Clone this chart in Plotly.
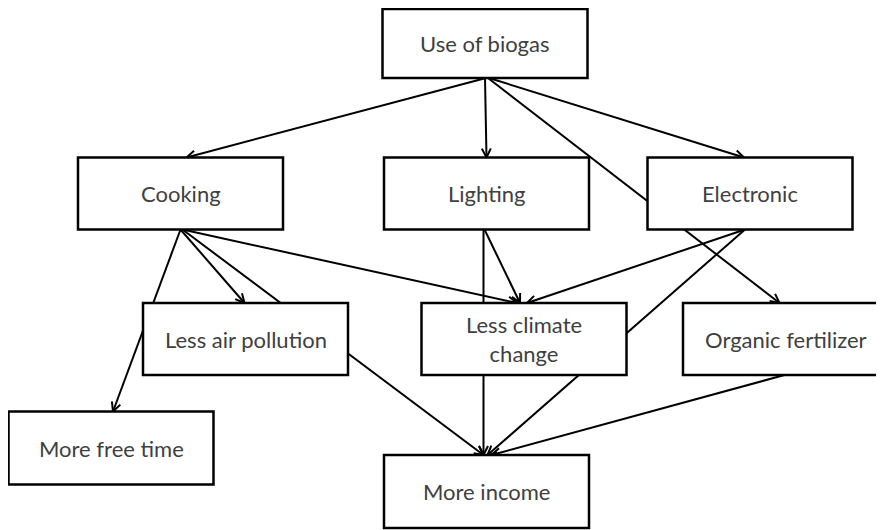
import numpy as np
import plotly.graph_objects as go

# boxes of the diagram
labels = ["Use of biogas", "Cooking", "Lighting", "Electronic",
          "Less air pollution", "Less climate<br>change", "Organic fertilizer",
          "More free time", "More income"]

# arrows: source box -> target box
sources = ["Use of biogas", "Use of biogas", "Use of biogas", "Use of biogas",
           "Cooking", "Cooking", "Cooking", "Cooking",
           "Lighting", "Lighting", "Electronic", "Electronic",
           "Organic fertilizer"]
targets = ["Cooking", "Lighting", "Electronic", "Organic fertilizer",
           "More free time", "Less air pollution", "More income",
           "Less climate<br>change",
           "Less climate<br>change", "More income",
           "Less climate<br>change", "More income",
           "More income"]

# layout (pixel units, y downwards): box centres and sizes
box_x = [485, 180.5, 486.5, 750, 245.5, 524, 785.5, 111, 486.5]
box_y = [43.5, 193.5, 193.5, 193.5, 339, 339, 339, 448, 491.5]
box_w = 205
box_h = [69, 72, 72, 72, 72, 72, 72, 73, 73]

# where each arrow leaves the bottom / meets the top (offset from centre)
start_dx = [1, 0, 4, 3, 0, 0, 2, 2, -2, -3, -5, -5, -1]
end_dx = [6, 0, -6, -6, 2, -1, -3, -7, -4, -3, 3, 1, 5]

geo = {lab: (x, y, h) for lab, x, y, h in zip(labels, box_x, box_y, box_h)}

fig = go.Figure()

line_x, line_y = [], []
head_x, head_y = [], []
for s, t, sd, ed in zip(sources, targets, start_dx, end_dx):
    x0 = geo[s][0] + sd
    y0 = geo[s][1] + geo[s][2] / 2
    x1 = geo[t][0] + ed
    y1 = geo[t][1] - geo[t][2] / 2
    line_x += [x0, x1, None]
    line_y += [y0, y1, None]
    u = np.array([x1 - x0, y1 - y0])
    u = u / np.hypot(*u)
    p = np.array([-u[1], u[0]])
    tip = np.array([x1, y1])
    a = tip - 9 * u + 4.5 * p
    b = tip - 9 * u - 4.5 * p
    head_x += [a[0], tip[0], b[0], None]
    head_y += [a[1], tip[1], b[1], None]

fig.add_trace(go.Scatter(x=line_x, y=line_y, mode='lines',
                         line=dict(color='black', width=2),
                         hoverinfo='skip'))
fig.add_trace(go.Scatter(x=head_x, y=head_y, mode='lines',
                         line=dict(color='black', width=2),
                         hoverinfo='skip'))

for lab, x, y, h in zip(labels, box_x, box_y, box_h):
    fig.add_shape(type='rect', layer='above',
                  x0=x - box_w / 2, x1=x + box_w / 2,
                  y0=y - h / 2, y1=y + h / 2,
                  line=dict(color='black', width=2.5),
                  fillcolor='white')
    fig.add_annotation(x=x, y=y, text=lab, showarrow=False,
                       font=dict(family='Lato', size=22, color='#404040'))

fig.update_layout(
    width=884,
    height=530,
    margin=dict(l=0, r=0, t=0, b=0),
    showlegend=False,
    plot_bgcolor='white',
    paper_bgcolor='white',
)
# page body has an 8px margin, shift the ranges to compensate
fig.update_xaxes(range=[8, 892], visible=False)
fig.update_yaxes(range=[538, 8], visible=False)

fig.write_html("out.html")
